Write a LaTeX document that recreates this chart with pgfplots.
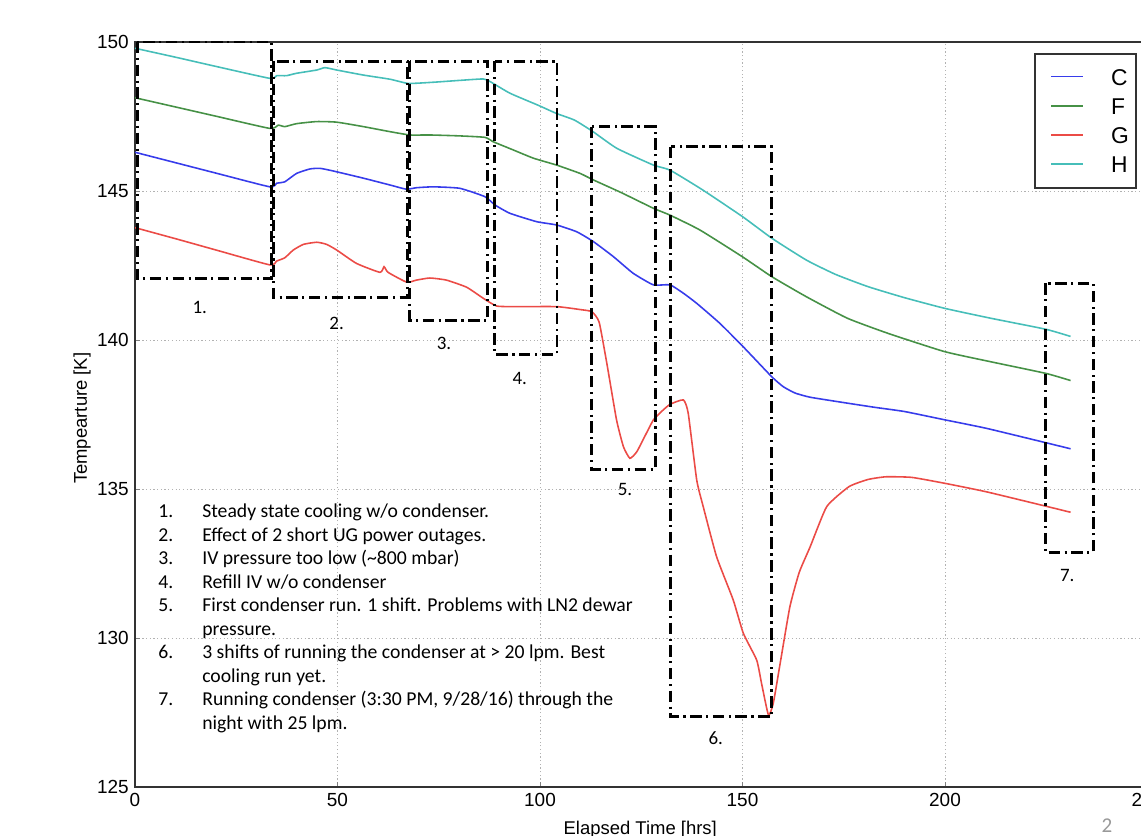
\documentclass[border=0pt]{standalone}
\usepackage{fontspec}
\setmainfont{Liberation Sans}
\newfontfamily\calibri{Carlito}
\usepackage{pgfplots}
\pgfplotsset{compat=1.18}

\definecolor{cC}{RGB}{55,60,235}
\definecolor{cF}{RGB}{70,145,70}
\definecolor{cG}{RGB}{235,75,70}
\definecolor{cH}{RGB}{70,190,185}

\tikzset{
  ddbox/.style={line width=1.7pt, dash pattern=on 6.5pt off 2.6pt on 1.2pt off 2.6pt},
  note/.style={anchor=base west, inner sep=0pt, font=\calibri\fontsize{11.2}{13.4}\selectfont},
  boxlab/.style={anchor=center, inner sep=0pt, font=\calibri\fontsize{10.8}{12}\selectfont},
}

\pgfplotstableread{
x y
0 146.30
10 145.95
20 145.60
33.3 145.14
35 145.26
37 145.31
39.9 145.59
43.2 145.74
45.7 145.76
49 145.67
56.4 145.43
63 145.20
67 145.06
69.5 145.11
73.7 145.14
80.2 145.09
86.4 144.81
88.9 144.53
92.6 144.25
99.2 143.97
104.1 143.86
109.1 143.63
113.2 143.30
118.1 142.80
123 142.24
128 141.85
132.1 141.85
135.4 141.57
138.7 141.23
144.4 140.56
150.2 139.77
157.2 138.77
160.1 138.43
163 138.22
166.7 138.08
175 137.90
182.7 137.74
190 137.60
200 137.32
210.1 137.04
223.8 136.59
231 136.35
}\dataC

\pgfplotstableread{
x y
0 148.13
10 147.82
20 147.51
33.3 147.10
35.4 147.21
37 147.16
39.9 147.26
44.9 147.33
49.8 147.31
56.4 147.16
63 146.99
67.9 146.88
72.8 146.88
80 146.85
86.4 146.80
88.5 146.65
93 146.40
98.4 146.10
104.1 145.87
109.9 145.59
113.2 145.37
120 144.95
128 144.42
132.1 144.19
139.5 143.69
149.9 142.80
157.3 142.12
165.8 141.45
175.9 140.73
186 140.22
199.9 139.61
211.3 139.27
224.9 138.88
231 138.64
}\dataF

\pgfplotstableread{
x y
0 143.77
10 143.40
20 143.02
33.3 142.52
35 142.65
37 142.76
39.1 143.02
41.6 143.21
44.9 143.28
47.3 143.21
49.8 143.02
54.7 142.57
60.5 142.27
61.5 142.46
62.5 142.27
67.1 141.94
69.5 142.01
72.8 142.08
76.9 142.01
81.9 141.77
86 141.40
89.3 141.14
94.2 141.12
104.1 141.12
110 141.02
112.8 140.95
114.6 140.60
116.5 139.22
118.9 137.32
120.6 136.42
122.2 136.03
123.9 136.25
126 136.80
128 137.32
130 137.60
132.1 137.84
135.4 137.99
136.6 137.54
138.7 135.30
140.3 134.41
143.6 132.73
147.7 131.28
150.2 130.16
153.5 129.26
154.7 128.48
156.4 127.42
157.6 127.81
159.3 129.15
161.7 131.05
164 132.20
166.7 133.06
170.8 134.41
176.3 135.08
181 135.32
185.4 135.41
191.8 135.39
200 135.19
210.1 134.91
223.8 134.46
231 134.22
}\dataG

\pgfplotstableread{
x y
0 149.79
10 149.49
20 149.18
33.3 148.78
35 148.87
37.4 148.87
39.9 148.95
44.9 149.06
46.9 149.14
49.8 149.06
56.4 148.89
63 148.75
67.5 148.61
73.7 148.65
80 148.71
86 148.76
87.7 148.67
92.6 148.28
99.5 147.88
104.1 147.60
108.5 147.38
113 147.00
119 146.43
128 145.87
132.1 145.70
140 145.05
150 144.14
157.3 143.41
165.8 142.68
173 142.20
181 141.79
190 141.42
200 141.06
211.3 140.73
224.9 140.36
231 140.12
}\dataH

\begin{document}
\begin{tikzpicture}
\begin{axis}[
  scale only axis,
  width=20.25cm, height=14.9cm,
  xmin=0, xmax=250, ymin=125, ymax=150,
  xtick={0,50,...,250}, ytick={125,130,...,150},
  tick pos=left, tick align=inside, major tick length=3pt,
  axis line style={line width=1pt, black!80},
  grid=major,
  grid style={gray!60, line width=0.5pt, dash pattern=on 0.7pt off 1.4pt},
  tick label style={font=\fontsize{10.8}{12}\selectfont},
  /pgf/number format/assume math mode=true,
  xlabel={Elapsed Time [hrs]},
  ylabel={Tempearture [K]},
  every axis x label/.style={at={(axis description cs:0.499,-0.0631)}, anchor=base, font=\fontsize{10.5}{12}\selectfont},
  every axis y label/.style={at={(axis description cs:-0.0523,0.495)}, rotate=90, anchor=center, font=\fontsize{10.5}{12}\selectfont},
  clip=false,
  legend style={
    at={(0.9896,0.9852)}, anchor=north east,
    draw=black!80, line width=1pt, fill=white,
    font=\fontsize{13}{15}\selectfont,
    inner xsep=4.1pt, inner ysep=8.4pt,
    row sep=7.35pt, column sep=15.4pt,
    nodes={inner sep=0pt, text height=9.33pt, text depth=0pt},
  },
  legend cell align=left,
  legend image code/.code={\path (0pt,0pt); \draw[#1, line width=1.1pt] (4.4pt,0.2pt) -- ++(0.64cm,0pt);},
  every axis plot/.append style={line width=0.9pt, smooth, tension=0.3},
]
\addplot[cC] table {\dataC};
\addlegendentry{C}
\addplot[cF] table {\dataF};
\addlegendentry{F}
\addplot[cG] table {\dataG};
\addlegendentry{G}
\addplot[cH] table {\dataH};
\addlegendentry{H}

% boxes around the events
\draw[ddbox] (axis cs:0.6,150) rectangle (axis cs:33.8,142.05);
\draw[ddbox] (axis cs:34.3,149.36) rectangle (axis cs:67.2,141.41);
\draw[ddbox] (axis cs:67.9,149.36) rectangle (axis cs:87.1,140.66);
\draw[ddbox] (axis cs:88.8,149.36) rectangle (axis cs:104.2,139.53);
\draw[ddbox] (axis cs:112.8,147.16) rectangle (axis cs:128.4,135.66);
\draw[ddbox] (axis cs:132.3,146.49) rectangle (axis cs:157.2,127.36);
\draw[ddbox] (axis cs:224.8,141.90) rectangle (axis cs:236.6,132.88);

\node[boxlab] at (axis cs:16,141.1) {1.};
\node[boxlab] at (axis cs:49.8,140.54) {2.};
\node[boxlab] at (axis cs:76.3,139.87) {3.};
\node[boxlab] at (axis cs:95,138.72) {4.};
\node[boxlab] at (axis cs:121,134.97) {5.};
\node[boxlab] at (axis cs:143.4,126.64) {6.};
\node[boxlab] at (axis cs:230.2,132.11) {7.};

% list of events
\node[note] at (axis cs:5.68,134.044) {1.};
\node[note] at (axis cs:16.54,134.044) {Steady state cooling w/o condenser.};
\node[note] at (axis cs:5.68,133.255) {2.};
\node[note] at (axis cs:16.54,133.255) {Effect of 2 short UG power outages.};
\node[note] at (axis cs:5.68,132.467) {3.};
\node[note] at (axis cs:16.54,132.467) {IV pressure too low (\textasciitilde800 mbar)};
\node[note] at (axis cs:5.68,131.678) {4.};
\node[note] at (axis cs:16.54,131.678) {Refill IV w/o condenser};
\node[note] at (axis cs:5.68,130.890) {5.};
\node[note] at (axis cs:16.54,130.890) {First condenser run. 1 shift. Problems with LN2 dewar};
\node[note] at (axis cs:16.54,130.101) {pressure.};
\node[note] at (axis cs:5.68,129.312) {6.};
\node[note] at (axis cs:16.54,129.312) {3 shifts of running the condenser at > 20 lpm. Best};
\node[note] at (axis cs:16.54,128.524) {cooling run yet.};
\node[note] at (axis cs:5.68,127.735) {7.};
\node[note] at (axis cs:16.54,127.735) {Running condenser (3:30 PM, 9/28/16) through the};
\node[note] at (axis cs:16.54,126.946) {night with 25 lpm.};

% slide page number
\node[anchor=base, inner sep=0pt, text=gray!80, font=\calibri\fontsize{12}{14}\selectfont] at (axis cs:240,123.49) {2};

\coordinate (bbsw) at (rel axis cs:-0.1333,-0.06443);
\coordinate (bbne) at (rel axis cs:0.99358,1.05638);
\end{axis}
\pgfresetboundingbox
\path[use as bounding box] (bbsw) rectangle (bbne);
\end{tikzpicture}
\end{document}
